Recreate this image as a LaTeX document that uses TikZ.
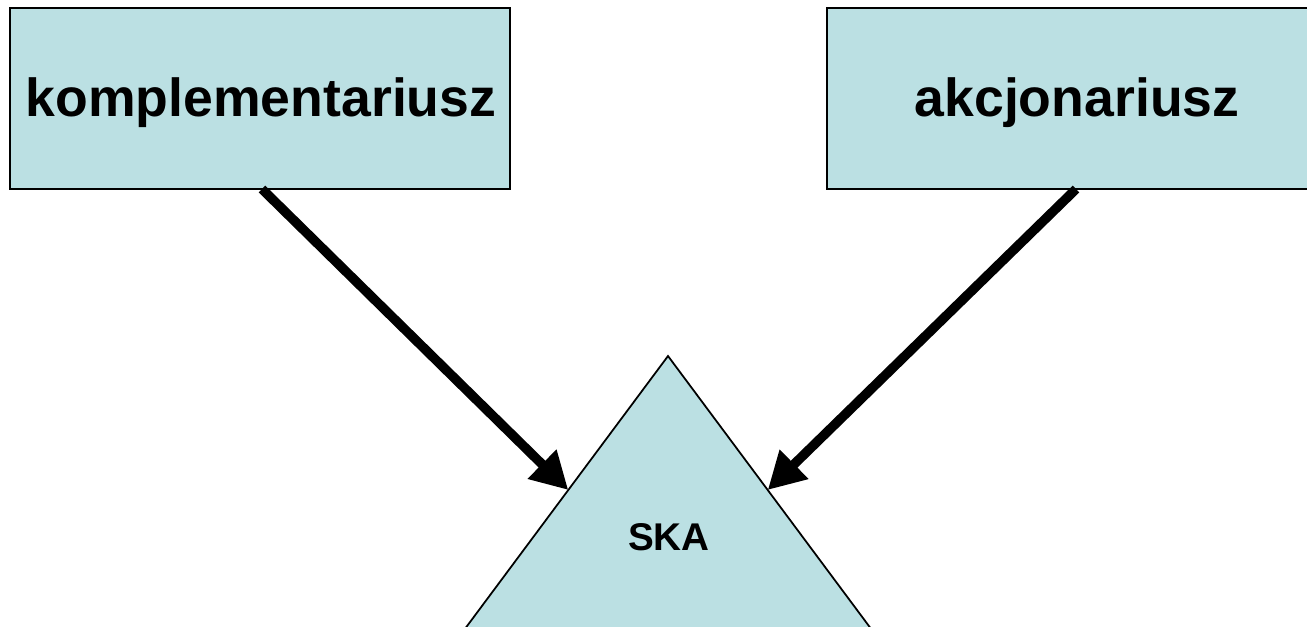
\documentclass[tikz,border=0pt]{standalone}
\usepackage{fontspec}
\setmainfont{Liberation Sans}
\usetikzlibrary{arrows.meta,calc}
\definecolor{boxfill}{HTML}{BBE0E3}
\tikzset{
  party/.style={draw=black, line width=1pt, fill=boxfill},
  label/.style={font=\bfseries\fontsize{30.5}{34}\selectfont, inner sep=0pt},
  link/.style={line width=5.4pt, -{Triangle[length=21pt,width=22pt]}},
}
\begin{document}
\begin{tikzpicture}[x=0.02cm,y=-0.02cm]
\useasboundingbox (0,0) rectangle (1307,626);
\clip (0,0) rectangle (1307,626);
% partner boxes
\draw[party] (10,8) rectangle (510,189);
\draw[party] (827,8) rectangle (1330,189);
\coordinate (Lout) at (262,189);
\coordinate (Rout) at (1076,189);
\node[label] (kompl) at (261,103) {komplementariusz};
\node[label] (akcj) at (1077,103) {akcjonariusz};
% company triangle
\coordinate (apex) at (668,356);
\coordinate (bl) at (412,700);
\coordinate (br) at (924,700);
\draw[party] (apex) -- (bl) -- (br) -- cycle;
\node[font=\bfseries\fontsize{22}{26}\selectfont, inner sep=0pt] (ska) at (669,537) {SKA};
\coordinate (Lin) at ($(apex)!0.3895!(bl)$);
\coordinate (Rin) at ($(apex)!0.3895!(br)$);
% contributions into the company
\draw[link] (Lout) -- (Lin);
\draw[link] (Rout) -- (Rin);
\end{tikzpicture}
\end{document}
